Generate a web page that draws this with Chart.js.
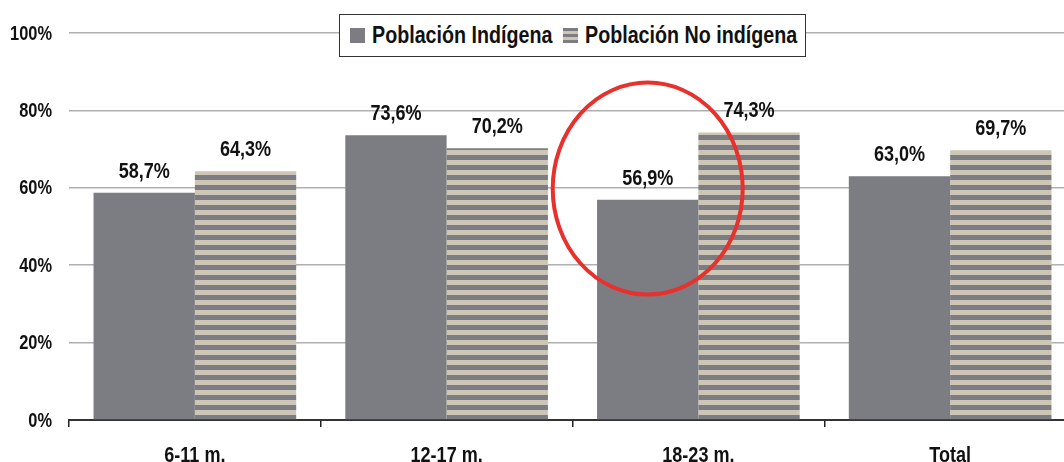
<!DOCTYPE html>
<html>
<head>
<meta charset="utf-8">
<script src="https://cdn.jsdelivr.net/npm/chart.js@4"></script>
<style>
  body { margin: 0; background: #fff; overflow: hidden; }
  #wrap { position: relative; width: 1064px; height: 462px; overflow: hidden; }
  #legendBox {
    position: absolute; left: 339px; top: 14px; width: 465px; height: 41px;
    border: 1.5px solid #333; background: #fff;
  }
  .sw { position: absolute; top: 28px; width: 15px; height: 15px; }
  .lbl {
    position: absolute; top: 21px; line-height: 27px; white-space: nowrap;
    font: bold 24px "Liberation Sans", Arial, sans-serif; color: #111;
    transform: scaleX(0.82); transform-origin: left center;
  }
</style>
</head>
<body>
<div id="wrap">
  <canvas id="myChart" width="1080" height="462"></canvas>
  <div id="legendBox"></div>
</div>
<script>
// data
const categories = ['6-11 m.', '12-17 m.', '18-23 m.', 'Total']
const indigena = [58.7, 73.6, 56.9, 63.0]
const noIndigena = [64.3, 70.2, 74.3, 69.7]
const yTicks = [0, 20, 40, 60, 80, 100]
const seriesNames = ['Población Indígena', 'Población No indígena']

const FONT = '"Liberation Sans", Arial, sans-serif'
const NARROW = 0.82 // squeeze Liberation Sans to look like Arial Narrow
const GRAY = '#7c7d82'
const BEIGE = '#cdc6b6'

// striped fill for the second series
function stripes() {
    const c = document.createElement('canvas')
    c.width = 10
    c.height = 10
    const g = c.getContext('2d')
    g.fillStyle = BEIGE
    g.fillRect(0, 0, 10, 5)
    g.fillStyle = GRAY
    g.fillRect(0, 5, 10, 5)
    return g.createPattern(c, 'repeat')
}

// html legend
const wrap = document.getElementById('wrap')
const legendPos = [{ sw: 350, txt: 372 }, { sw: 563, txt: 585 }]
seriesNames.forEach((name, i) => {
    const sw = document.createElement('div')
    sw.className = 'sw'
    sw.style.left = legendPos[i].sw + 'px'
    sw.style.background = i === 0 ? GRAY :
        'repeating-linear-gradient(to bottom, ' + GRAY + ' 0 3px, ' + BEIGE + ' 3px 6px)'
    const txt = document.createElement('span')
    txt.className = 'lbl'
    txt.style.left = legendPos[i].txt + 'px'
    txt.textContent = name
    wrap.appendChild(sw)
    wrap.appendChild(txt)
})

// narrow bold text helper
function narrowText(ctx, text, x, y, size, align, baseline) {
    ctx.save()
    ctx.font = 'bold ' + size + 'px ' + FONT
    ctx.fillStyle = '#111'
    ctx.textAlign = align
    ctx.textBaseline = baseline
    ctx.translate(x, y)
    ctx.scale(NARROW, 1)
    ctx.fillText(text, 0, 0)
    ctx.restore()
}

// value labels above bars + axis labels
const textLabels = {
    id: 'textLabels',
    afterDatasetsDraw(chart) {
        const ctx = chart.ctx
        chart.data.datasets.forEach((ds, di) => {
            chart.getDatasetMeta(di).data.forEach((bar, i) => {
                const txt = ds.data[i].toFixed(1).replace('.', ',') + '%'
                narrowText(ctx, txt, bar.x, bar.y - 15, 22, 'center', 'alphabetic')
            })
        })
        const xs = chart.scales.x
        categories.forEach((c, i) => {
            narrowText(ctx, c, xs.getPixelForValue(i), 462, 22, 'center', 'alphabetic')
        })
        const ys = chart.scales.y
        yTicks.forEach(v => {
            narrowText(ctx, v + '%', 52, ys.getPixelForValue(v) + 1, 20, 'right', 'middle')
        })
    }
}

// red circle around 18-23 m. indigenous bar
const highlight = {
    id: 'highlight',
    afterDraw(chart) {
        const bar = chart.getDatasetMeta(0).data[2]
        const y = chart.scales.y.getPixelForValue(59.8)
        const ctx = chart.ctx
        ctx.save()
        ctx.strokeStyle = '#e8302c'
        ctx.lineWidth = 4
        ctx.beginPath()
        ctx.ellipse(bar.x, y, 95, 106, 0, 0, Math.PI * 2)
        ctx.stroke()
        ctx.restore()
    }
}

const ctx = document.getElementById('myChart').getContext('2d')

const myChart = new Chart(ctx, {
    type: 'bar',
    data: {
        labels: categories,
        datasets: [{
            label: seriesNames[0],
            data: indigena,
            backgroundColor: GRAY,
            categoryPercentage: 0.805,
            barPercentage: 1
        }, {
            label: seriesNames[1],
            data: noIndigena,
            backgroundColor: stripes(),
            categoryPercentage: 0.805,
            barPercentage: 1
        }]
    },
    options: {
        responsive: false,
        animation: false,
        layout: { padding: { top: 33, right: 4 } },
        plugins: {
            legend: { display: false },
            tooltip: { enabled: false }
        },
        scales: {
            x: {
                grid: {
                    offset: true,
                    drawOnChartArea: false,
                    drawTicks: true,
                    tickLength: 7,
                    color: '#222',
                    lineWidth: 1.5
                },
                border: { display: true, color: '#333', width: 2 },
                ticks: { display: false },
                afterFit: scale => { scale.height = 42 }
            },
            y: {
                min: 0,
                max: 100,
                afterBuildTicks: scale => { scale.ticks = yTicks.map(v => ({ value: v })) },
                grid: { drawTicks: false, color: '#b0b0b0', lineWidth: 1.5 },
                border: { display: false },
                ticks: { display: false },
                afterFit: scale => { scale.width = 69 }
            }
        }
    },
    plugins: [textLabels, highlight]
})
</script>
</body>
</html>
